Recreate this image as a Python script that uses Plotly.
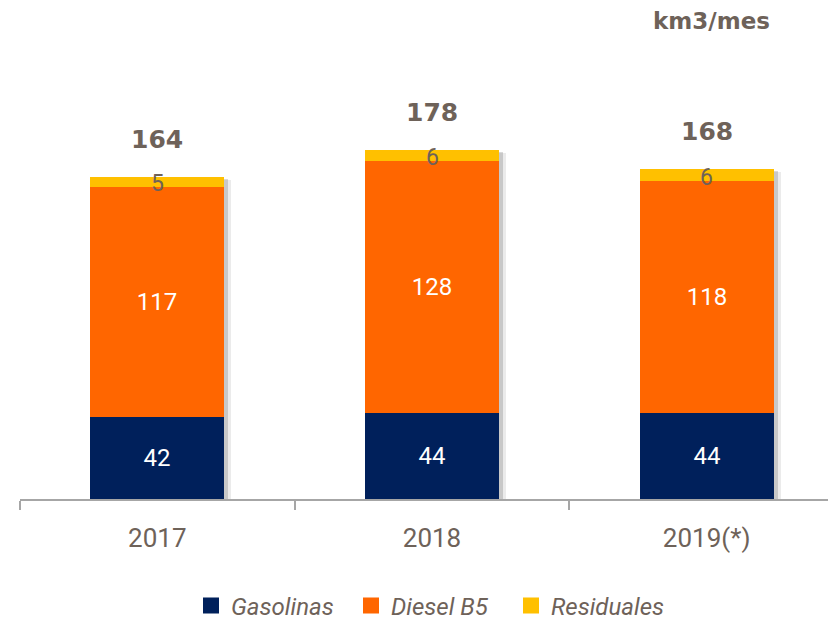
import plotly.graph_objects as go

years = ["2017", "2018", "2019(*)"]
gasolinas = [42, 44, 44]
diesel = [117, 128, 118]
residuales = [5, 6, 6]
totals = [164, 178, 168]
unit_label = "km3/mes"

series_names = ["Gasolinas", "Diesel B5", "Residuales"]
series_colors = ["#00205B", "#FF6600", "#FFC000"]

GRAY = "#6E6259"
FONT = "Roboto"
BOLDFONT = "DejaVu Sans"
W = 0.488
PLOT_H = 449
PX_PER_UNIT = 1.963

x_idx = list(range(len(years)))
base_d = gasolinas
base_r = [g + d for g, d in zip(gasolinas, diesel)]

fig = go.Figure()

# drop shadow behind each stack
fig.add_trace(go.Bar(
    x=x_idx, y=[t - 1.5 for t in totals], base=[0] * len(years), width=W,
    offset=-W / 2 + 0.026, marker=dict(color="rgba(0,0,0,0.08)", line=dict(width=0)),
    showlegend=False, hoverinfo="skip"))
fig.add_trace(go.Bar(
    x=x_idx, y=[t - 1 for t in totals], base=[0] * len(years), width=W,
    offset=-W / 2 + 0.014, marker=dict(color="rgba(0,0,0,0.15)", line=dict(width=0)),
    showlegend=False, hoverinfo="skip"))

fig.add_trace(go.Bar(
    x=x_idx, y=gasolinas, base=[0] * len(years), width=W, name=series_names[0],
    marker=dict(color=series_colors[0], line=dict(width=0)), showlegend=False,
    text=[str(v) for v in gasolinas], textposition="inside", insidetextanchor="middle",
    textfont=dict(color="white", size=24, family=FONT), textangle=0))
fig.add_trace(go.Bar(
    x=x_idx, y=diesel, base=base_d, width=W, name=series_names[1],
    marker=dict(color=series_colors[1], line=dict(width=0)), showlegend=False,
    text=[str(v) for v in diesel], textposition="inside", insidetextanchor="middle",
    textfont=dict(color="white", size=24, family=FONT), textangle=0))
fig.add_trace(go.Bar(
    x=x_idx, y=residuales, base=base_r, width=W, name=series_names[2],
    marker=dict(color=series_colors[2], line=dict(width=0)), showlegend=False))

# legend entries with larger square symbols
for nm, col in zip(series_names, series_colors):
    fig.add_trace(go.Scatter(x=[None], y=[None], mode="markers", name=nm,
                             marker=dict(symbol="square", size=17, color=col),
                             showlegend=True, hoverinfo="skip"))

annotations = []
for i, (b, r, t) in enumerate(zip(base_r, residuales, totals)):
    annotations.append(dict(x=i, y=b + r / 2, text=str(r), showarrow=False,
                            font=dict(color=GRAY, size=23, family=FONT),
                            xref="x", yref="y", yanchor="middle", yshift=-2))
    annotations.append(dict(x=i, y=t, text="<b>%d</b>" % t, showarrow=False,
                            font=dict(color=GRAY, size=25, family=BOLDFONT),
                            xref="x", yref="y", yanchor="bottom", yshift=21))
annotations.append(dict(x=(711 - 20) / 824, y=1, yshift=29, xref="paper", yref="paper",
                        text="<b>" + unit_label + "</b>", xanchor="center", yanchor="middle",
                        showarrow=False, font=dict(color=GRAY, size=23, family=BOLDFONT)))

fig.update_layout(
    width=836, height=622,
    margin=dict(l=12, r=0, t=42, b=622 - 42 - PLOT_H, autoexpand=False),
    barmode="overlay",
    plot_bgcolor="white", paper_bgcolor="white",
    bargap=0,
    showlegend=True,
    legend=dict(orientation="h", x=(431 - 20) / 824, xanchor="center",
                yref="container", y=24 / 622, yanchor="middle",
                font=dict(color=GRAY, size=24, family=FONT, style="italic"), itemwidth=30,
                entrywidth=115, traceorder="normal"),
    annotations=annotations,
    font=dict(family=FONT, color=GRAY),
)
fig.update_xaxes(
    tickmode="array", tickvals=x_idx, ticktext=years, automargin=False,
    range=[-0.5, 2.5], showgrid=False, zeroline=False,
    showline=True, linecolor="#A6A6A6", linewidth=1.5,
    ticks="", tickfont=dict(size=26, color=GRAY, family=FONT),
    ticklabelstandoff=15,
    minor=dict(tickmode="array", tickvals=[-0.5, 0.5, 1.5], ticks="outside",
               ticklen=9, tickcolor="#A6A6A6", tickwidth=1.5),
)
fig.update_yaxes(range=[0, PLOT_H / PX_PER_UNIT], visible=False, showgrid=False,
                 zeroline=False, automargin=False)

fig.write_html("out.html")
